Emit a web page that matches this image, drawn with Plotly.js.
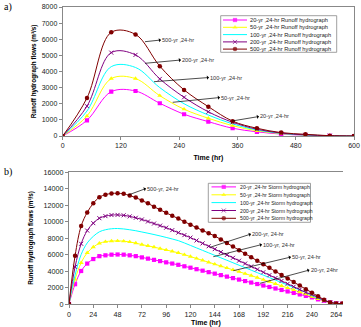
<!DOCTYPE html>
<html><head><meta charset="utf-8">
<script src="https://cdn.plot.ly/plotly-3.0.1.min.js"></script>
<style>html,body{margin:0;padding:0;background:#fff}#chart{width:361px;height:327px}</style>
</head><body><div id="chart"></div>
<script>
// ---------- data ----------
const hoursA = [0,50,100,150,200,250,300,350,400,450,500,550,600];
const runoff20  = [0, 975,2750,2790,2030,1350, 890, 480, 260, 120, 50, 15, 0];
const runoff50  = [0,1240,3560,3560,2500,1660,1100, 640, 320, 150, 60, 20, 0];
const runoff100 = [0,1550,4300,4250,3000,2000,1300, 750, 370, 160, 60, 20, 0];
const runoff200 = [0,1850,5170,5030,3540,2400,1500, 850, 420, 180, 70, 20, 0];
const runoff500 = [0,2360,6430,6300,4330,2860,1820, 920, 480, 210,105, 20, 0];

const hoursB = [0,6,12,18,24,30,36,42,48,54,60,66,72,78,84,90,96,102,108,114,120,126,132,138,144,150,156,162,168,174,180,186,192,198,204,210,216,222,228,234,240,246,252,258,264,270];
const storm20  = [0,2400,4000,4900,5450,5800,5900,5980,6000,5980,5900,5800,5650,5500,5350,5200,5050,4900,4750,4570,4400,4220,4040,3860,3680,3500,3320,3140,2960,2780,2600,2420,2240,2060,1880,1700,1520,1340,1160,980,800,560,400,200,80,30];
const storm50  = [0,3000,5000,6200,6900,7350,7550,7630,7650,7620,7520,7380,7200,7050,6900,6720,6550,6380,6200,5980,5750,5520,5290,5060,4830,4600,4370,4140,3910,3680,3450,3200,2950,2700,2450,2200,1950,1700,1450,1200,900,620,400,180,70,30];
const storm100 = [0,3500,6000,7400,8200,8750,9000,9120,9150,9100,9000,8880,8730,8580,8420,8250,8070,7880,7680,7400,7100,6800,6500,6200,5900,5600,5300,5000,4700,4400,4100,3800,3500,3200,2900,2600,2300,2000,1700,1400,1000,700,450,200,80,30];
const storm200 = [0,4500,7300,8900,9800,10400,10650,10780,10800,10750,10620,10450,10250,10000,9750,9500,9250,8950,8650,8350,8050,7700,7350,7000,6650,6300,5950,5600,5250,4900,4550,4200,3850,3500,3150,2800,2450,2100,1750,1400,1150,820,420,200,80,30];
const storm500 = [0,5850,9450,11100,12200,12950,13250,13400,13420,13350,13150,12900,12550,12200,11800,11420,11050,10700,10350,9980,9620,9260,8920,8580,8250,7820,7390,6960,6530,6100,5670,5240,4810,4380,3950,3520,3090,2660,2230,1800,1370,940,520,180,70,50];

const returnPeriods = ['20-yr','50-yr','100-yr','200-yr','500-yr'];
const legendA = returnPeriods.map(r => r + ' ,24-hr Runoff hydrograph');
const legendB = returnPeriods.map(r => r + ' ,24-hr Storm hydrograph');
const curveLabelsA = returnPeriods.map(r => r + ' ,24-hr');
const curveLabelsB = ['20-yr, 24hr','50-yr, 24-hr','100-yr, 24-hr','200-yr, 24-hr','500-yr, 24-hr'];
const ticksA = [0,120,240,360,480,600];
const ticksB = [0,24,48,72,96,120,144,168,192,216,240,264];

// ---------- styles ----------
const W = 361, H = 327;
const colors  = ['#FF00FF','#FFFF00','#00FFFF','#800080','#800000'];
const symbols = ['square','triangle-up',null,'x-thin-open','circle'];
const msizes  = [4.2,4.5,0,4,4.5];
const FONT = 'Liberation Sans, Arial, sans-serif';
const px = x => x / W, py = y => 1 - y / H;

const seriesA = [runoff20, runoff50, runoff100, runoff200, runoff500];
const seriesB = [storm20, storm50, storm100, storm200, storm500];

function markerFor(i, size) {
  return {symbol: symbols[i], size: size, color: colors[i],
    line: {color: colors[i], width: symbols[i].indexOf('open') >= 0 ? 1 : 0}};
}

const traces = [];
function addSeries(xs, ys, i, xa, ya, name) {
  const t = {
    x: xs, y: ys, xaxis: xa, yaxis: ya, name: name, type: 'scatter',
    mode: 'lines',
    line: {color: colors[i], width: 1, shape: 'spline', smoothing: 1},
    showlegend: false, hoverinfo: 'x+y+name'
  };
  if (symbols[i]) { t.mode = 'lines+markers'; t.marker = markerFor(i, msizes[i]); }
  traces.push(t);
}
seriesA.forEach((s, i) => addSeries(hoursA, s, i, 'x', 'y', legendA[i]));
seriesB.forEach((s, i) => addSeries(hoursB, s, i, 'x2', 'y2', legendB[i]));

// custom compact legends drawn on a pixel overlay axis
const shapes = [];
const annotations = [];
function drawLegend(box, rowY, sx1, sx2, tx, labels, fs) {
  shapes.push({type: 'rect', xref: 'paper', yref: 'paper', layer: 'below',
    x0: px(box[0]), x1: px(box[2]), y0: py(box[3]), y1: py(box[1]),
    line: {color: '#888', width: 0.8}, fillcolor: '#fff'});
  labels.forEach((lab, i) => {
    const y = rowY[i];
    const t = {x: [sx1, (sx1 + sx2) / 2, sx2], y: [y, y, y], xaxis: 'x3', yaxis: 'y3',
      mode: 'lines', showlegend: false, hoverinfo: 'skip',
      line: {color: colors[i], width: 1}};
    if (symbols[i]) { t.mode = 'lines+markers'; t.marker = markerFor(i, [0, msizes[i], 0]); }
    traces.push(t);
    annotations.push({xref: 'paper', yref: 'paper', x: px(tx), y: py(y), xanchor: 'left', yanchor: 'middle',
      text: lab, showarrow: false, font: {family: FONT, size: fs, color: '#222'}, borderpad: 0});
  });
}
drawLegend([220.7, 15.7, 336.7, 52.3], [20, 27.3, 34.6, 41.9, 49.1], 223, 247, 249, legendA, 5.7);
drawLegend([208.3, 183.3, 310.5, 222.3], [186.9, 194.8, 202.6, 210.5, 218.3], 211.5, 236, 238.5, legendB, 5.2);

// curve labels with arrows (tail on curve, head next to text), pixel positions
function curveLabel(tail, head, text) {
  annotations.push({xref: 'paper', yref: 'paper', x: px(tail[0]), y: py(tail[1]),
    ax: head[0] - tail[0], ay: head[1] - tail[1], axref: 'pixel', ayref: 'pixel',
    text: text, showarrow: true, arrowside: 'start', arrowhead: 2, arrowsize: 0.85, arrowwidth: 0.7,
    arrowcolor: '#000', xanchor: 'left', yanchor: 'middle', borderpad: 0, standoff: 0, startstandoff: 0,
    font: {family: FONT, size: 5.6, color: '#333'}});
}
const tailsA = [[232,121],[172.7,102.3],[154,81.7],[145,63.3],[145,41.7]];
const headsA = [[259,116.5],[220,97.5],[209,77.5],[181,60],[161,40]];
const tailsB = [[260,283.3],[233.3,270.7],[213.3,256.7],[210,247.3],[128.3,195]];
const headsB = [[309.5,270],[291,257],[262,244.5],[251,234],[146,188.5]];
curveLabelsA.forEach((t, i) => curveLabel(tailsA[i], headsA[i], t));
curveLabelsB.forEach((t, i) => curveLabel(tailsB[i], headsB[i], t));

annotations.push({xref: 'paper', yref: 'paper', x: px(1.5), y: py(7), xanchor: 'left', yanchor: 'middle', showarrow: false,
  text: 'a)', font: {family: 'Liberation Serif, Times New Roman, serif', size: 10, color: '#000'}});
annotations.push({xref: 'paper', yref: 'paper', x: px(1.5), y: py(172), xanchor: 'left', yanchor: 'middle', showarrow: false,
  text: 'b)', font: {family: 'Liberation Serif, Times New Roman, serif', size: 10, color: '#000'}});

const axisCommon = {showline: true, linecolor: '#888', linewidth: 1, ticks: 'outside', ticklen: 3, tickcolor: '#888',
  showgrid: false, zeroline: false, fixedrange: true, tickformat: 'd'};
const yTitleFont = {family: FONT, size: 6.3, weight: 'bold', color: '#000'};
const xTitleFont = {family: FONT, size: 7, weight: 'bold', color: '#000'};
const yTitleText = 'Runoff hydrograph flows (m³/s)';

const layout = {
  width: W, height: H, margin: {l: 0, r: 0, t: 0, b: 0},
  paper_bgcolor: '#fff', plot_bgcolor: 'rgba(0,0,0,0)', showlegend: false,
  font: {family: FONT, color: '#222'},
  xaxis: Object.assign({}, axisCommon, {domain: [px(62.7), px(354)], range: [0, 600], anchor: 'y', mirror: true,
    tickvals: ticksA, tickfont: {family: FONT, size: 7, color: '#222'}, automargin: 'height',
    title: {text: 'Time (hr)', font: xTitleFont, standoff: 6}}),
  yaxis: Object.assign({}, axisCommon, {domain: [py(136), py(7)], range: [0, 8000], anchor: 'x', mirror: true,
    dtick: 1000, tickfont: {family: FONT, size: 7, color: '#222'}, automargin: 'width',
    title: {text: yTitleText, font: yTitleFont, standoff: 4}}),
  xaxis2: Object.assign({}, axisCommon, {domain: [px(69), px(343)], range: [0, 270.7], anchor: 'y2', mirror: true,
    tickvals: ticksB, tickfont: {family: FONT, size: 7.2, color: '#222'},
    title: {text: 'Time (hr)', font: xTitleFont}}),
  yaxis2: Object.assign({}, axisCommon, {domain: [py(304), py(172)], range: [0, 16000], anchor: 'x2',
    dtick: 2000, tickfont: {family: FONT, size: 7.2, color: '#222'}, automargin: 'width',
    title: {text: yTitleText, font: yTitleFont, standoff: 9}}),
  xaxis3: {domain: [0, 1], range: [0, W], anchor: 'y3', visible: false, fixedrange: true},
  yaxis3: {domain: [0, 1], range: [H, 0], anchor: 'x3', visible: false, fixedrange: true},
  shapes: shapes, annotations: annotations
};

Plotly.newPlot('chart', traces, layout, {staticPlot: true, displayModeBar: false});
</script></body></html>
